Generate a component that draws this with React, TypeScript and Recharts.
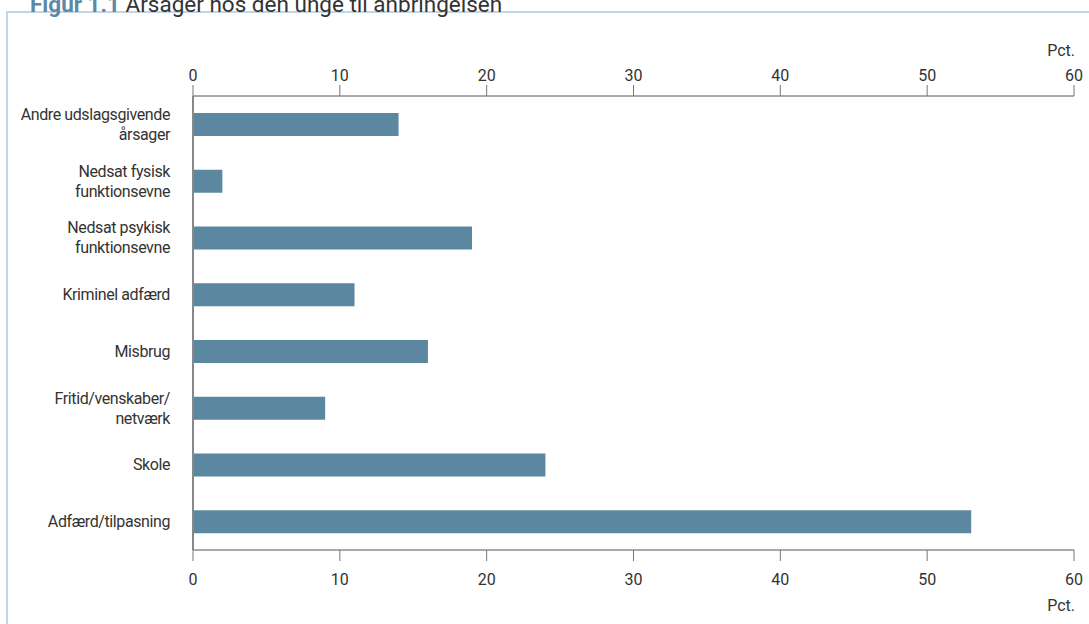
import { ComposedChart, Bar, Line, XAxis, YAxis } from "recharts";

const categories = [
  "Andre udslagsgivende|årsager",
  "Nedsat fysisk|funktionsevne",
  "Nedsat psykisk|funktionsevne",
  "Kriminel adfærd",
  "Misbrug",
  "Fritid/venskaber/|netværk",
  "Skole",
  "Adfærd/tilpasning",
];
const values = [14, 2, 19, 11, 16, 9, 24, 53];
const xTicks = [0, 10, 20, 30, 40, 50, 60];

const data = categories.map((c, i) => ({ name: c, value: values[i] }));

const FONT = "Roboto, 'DejaVu Sans Condensed', sans-serif";
const TEXT = "#333";
const LS = -0.4;

const CatTick = ({ x, y, payload }: any) => {
  const lines = String(payload.value).split("|");
  const start = -((lines.length - 1) * 20) / 2;
  return (
    <text x={x - 15} y={y} textAnchor="end" fontSize={16} fill={TEXT} fontFamily={FONT} letterSpacing={LS}>
      {lines.map((l, i) => (
        <tspan key={i} x={x - 15} y={y + start + i * 20} dy="0.35em">
          {l}
        </tspan>
      ))}
    </text>
  );
};

const axisTick = { fontSize: 16, fill: TEXT, fontFamily: FONT };

export default function App() {
  return (
    <div style={{ position: "absolute", left: 0, top: 0, width: 1089, height: 624, background: "#fff", overflow: "hidden" }}>
      {/* frame */}
      <div style={{ position: "absolute", left: 6, top: 11, width: 1200, height: 700, border: "2px solid #c3d5e4" }} />
      {/* title, cut at the top as in the source */}
      <div style={{ position: "absolute", left: 30, top: -8, fontFamily: FONT, fontSize: 22.5, lineHeight: "24px", color: TEXT, whiteSpace: "nowrap" }}>
        <span style={{ color: "#5b88a8", fontWeight: "bold" }}>Figur 1.1</span> Årsager hos den unge til anbringelsen
      </div>
      <div style={{ position: "absolute", left: 0, top: 0 }}>
        <ComposedChart
          width={1089}
          height={624}
          data={data}
          layout="vertical"
          margin={{ top: 56, right: 15, bottom: 34, left: 0 }}
          barCategoryGap={0}
        >
          <XAxis
            xAxisId="top"
            orientation="top"
            type="number"
            dataKey="value"
            domain={[0, 60]}
            ticks={xTicks}
            height={40}
            tickSize={11}
            tickMargin={4}
            axisLine={{ stroke: "#555" }}
            tickLine={{ stroke: "#777" }}
            tick={axisTick}
            interval={0}
          />
          <XAxis
            xAxisId="bottom"
            orientation="bottom"
            type="number"
            dataKey="value"
            domain={[0, 60]}
            ticks={xTicks}
            height={40}
            tickSize={11}
            tickMargin={13}
            axisLine={{ stroke: "#555" }}
            tickLine={{ stroke: "#777" }}
            tick={axisTick}
            interval={0}
          />
          <YAxis
            type="category"
            dataKey="name"
            width={193}
            axisLine={{ stroke: "#888", strokeWidth: 2 }}
            tickLine={false}
            tick={<CatTick />}
            interval={0}
          />
          <Bar dataKey="value" xAxisId="bottom" fill="#5c87a1" barSize={23} isAnimationActive={false} />
          <Line dataKey="value" xAxisId="top" stroke="none" dot={false} activeDot={false} legendType="none" isAnimationActive={false} />
          <text x={1075} y={56} textAnchor="end" fontSize={16} fill={TEXT} fontFamily={FONT}>
            Pct.
          </text>
          <text x={1075} y={611} textAnchor="end" fontSize={16} fill={TEXT} fontFamily={FONT}>
            Pct.
          </text>
        </ComposedChart>
      </div>
    </div>
  );
}
